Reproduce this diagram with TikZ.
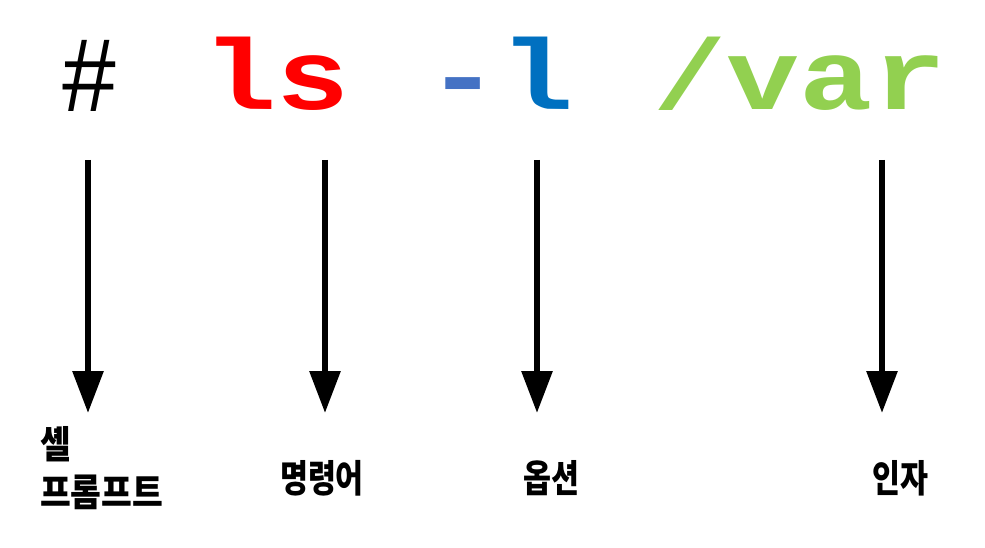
\documentclass[tikz,border=0pt]{standalone}
\usepackage{fontspec}
\usetikzlibrary{arrows.meta}
\newfontfamily\monofont{Liberation Mono}
\newfontfamily\krfont{Noto Sans CJK KR}
\definecolor{cmdred}{HTML}{FF0000}
\definecolor{optblue}{HTML}{0070C0}
\definecolor{dashblue}{HTML}{4472C4}
\definecolor{arggreen}{HTML}{92D050}
\begin{document}
\begin{tikzpicture}[x=1pt,y=-1pt,
  code/.style={inner sep=0pt, anchor=base, xscale=1.22, font=\monofont\bfseries\fontsize{100}{100}\selectfont},
  prompt/.style={inner sep=0pt, anchor=base, xscale=0.9, font=\monofont\fontsize{108}{108}\selectfont},
  lbl/.style={inner sep=0pt, xscale=0.8, font=\krfont\bfseries\fontsize{38}{48}\selectfont},
  arr/.style={line width=6pt, -{Triangle[width=30pt,length=42pt]}}]
\useasboundingbox (0,0) rectangle (985,548);
\node[prompt] (hash) at (90,112) {\#};
\node[code, text=cmdred] (ls) at (277,110) {ls};
\node[code] (opt) at (500,110) {{\color{dashblue}-}{\color{optblue}l}};
\node[code, text=arggreen] (var) at (800,110) {/var};
\coordinate (s1) at (88,160);  \coordinate (e1) at (88,413);
\coordinate (s2) at (325,160); \coordinate (e2) at (325,413);
\coordinate (s3) at (537,160); \coordinate (e3) at (537,413);
\coordinate (s4) at (882,160); \coordinate (e4) at (882,413);
\draw[arr] (s1) -- (e1);
\draw[arr] (s2) -- (e2);
\draw[arr] (s3) -- (e3);
\draw[arr] (s4) -- (e4);
\node[lbl, anchor=north west, align=left, xscale=1.1] (shell) at (40,426) {셸\\프롬프트};
\node[lbl] (cmd) at (322,478) {명령어};
\node[lbl] (optl) at (551,478) {옵션};
\node[lbl] (arg) at (900,478) {인자};
\end{tikzpicture}
\end{document}
